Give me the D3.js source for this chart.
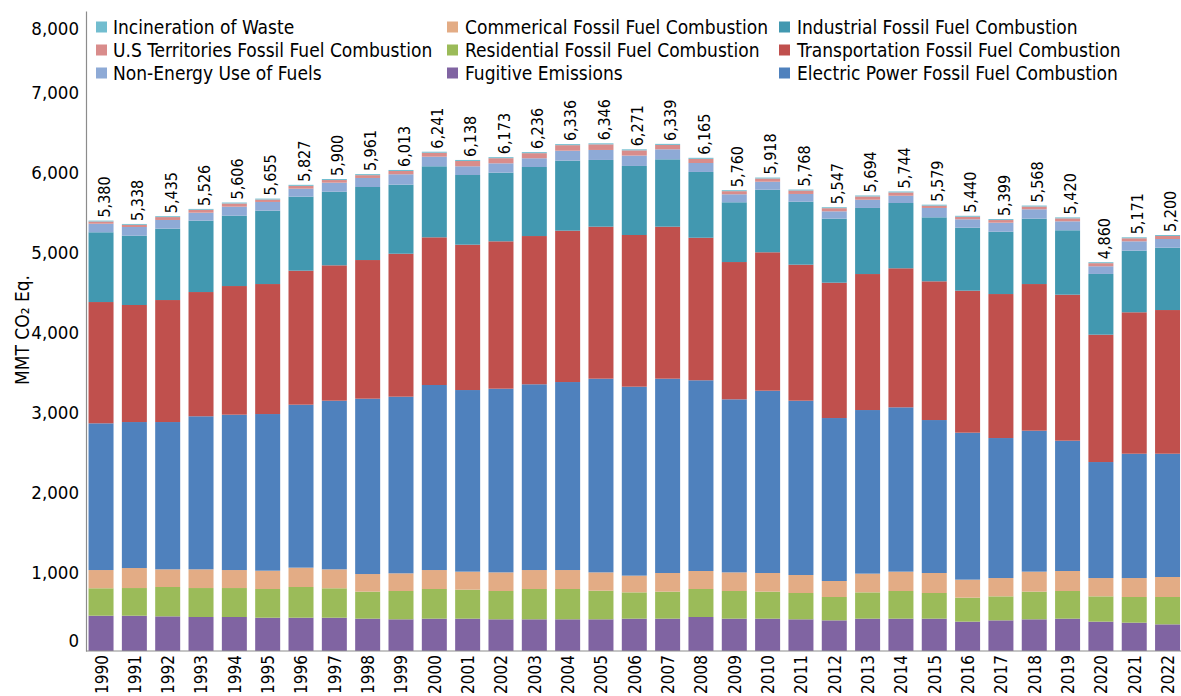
<!DOCTYPE html>
<html><head><meta charset="utf-8">
<script src="https://cdn.jsdelivr.net/npm/d3@7"></script>
<style>
body{margin:0;background:#fff;}
svg text{font-family:"DejaVu Sans Condensed","DejaVu Sans",sans-serif;font-stretch:condensed;fill:#000;}
</style></head><body>
<svg id="chart" width="1181" height="696"></svg>
<script>
const years = ["1990","1991","1992","1993","1994","1995","1996","1997","1998","1999","2000","2001","2002","2003","2004","2005","2006","2007","2008","2009","2010","2011","2012","2013","2014","2015","2016","2017","2018","2019","2020","2021","2022"];
const fugitive = [441,441,433,425,425,416,416,416,404,396,404,404,396,396,396,396,404,404,425,404,404,396,383,404,404,404,367,383,396,404,367,354,333];
const residential = [343,346,367,362,362,359,384,368,338,354,371,363,354,379,379,358,329,338,350,346,338,329,292,329,346,321,300,300,346,346,316,321,342];
const commercial = [228,250,221,234,225,229,242,237,220,221,237,225,233,237,237,229,209,233,225,233,233,225,200,234,242,250,225,229,250,250,229,237,250];
const electric = [1834,1825,1841,1913,1942,1958,2037,2108,2192,2208,2313,2270,2296,2322,2350,2421,2362,2429,2384,2163,2279,2179,2037,2045,2054,1912,1837,1750,1762,1629,1450,1554,1541];
const transportation = [1516,1463,1525,1553,1608,1625,1675,1692,1733,1787,1846,1817,1842,1853,1892,1900,1896,1900,1782,1716,1730,1700,1692,1700,1738,1734,1775,1800,1833,1825,1592,1768,1796];
const industrial = [872,866,892,892,879,917,925,920,913,863,888,871,858,863,875,834,863,842,822,747,782,787,800,826,816,800,787,779,817,805,759,770,779];
const nonEnergy = [107,109,109,100,113,109,100,113,113,130,120,109,117,109,125,125,130,125,112,100,100,97,92,103,91,117,105,113,117,112,96,117,109];
const territories = [28,27,36,36,40,30,35,33,35,41,49,66,64,64,69,70,65,55,52,39,40,43,39,41,41,29,32,33,35,37,39,38,38];
const incineration = [11,11,11,11,12,12,13,13,13,13,13,13,13,13,13,13,13,13,13,12,12,12,12,12,12,12,12,12,12,12,12,12,12];
const totals = [5380,5338,5435,5526,5606,5655,5827,5900,5961,6013,6241,6138,6173,6236,6336,6346,6271,6339,6165,5760,5918,5768,5547,5694,5744,5579,5440,5399,5568,5420,4860,5171,5200];
const yTicks = [0,1000,2000,3000,4000,5000,6000,7000,8000];

// series (stack order bottom -> top)
const seriesNames = ["Fugitive Emissions","Residential Fossil Fuel Combustion","Commerical Fossil Fuel Combustion","Electric Power Fossil Fuel Combustion","Transportation Fossil Fuel Combustion","Industrial Fossil Fuel Combustion","Non-Energy Use of Fuels","U.S Territories Fossil Fuel Combustion","Incineration of Waste"];
const seriesValues = [fugitive,residential,commercial,electric,transportation,industrial,nonEnergy,territories,incineration];
const seriesColors = ["#8064a2","#9bbb59","#e3ac85","#4f81bd","#c0504d","#4298b0","#8eaad6","#d98c8b","#72bdcf"];
// legend layout order (column-major)
const legendOrder = [
  "Incineration of Waste","U.S Territories Fossil Fuel Combustion","Non-Energy Use of Fuels",
  "Commerical Fossil Fuel Combustion","Residential Fossil Fuel Combustion","Fugitive Emissions",
  "Industrial Fossil Fuel Combustion","Transportation Fossil Fuel Combustion","Electric Power Fossil Fuel Combustion"
];

const svg = d3.select("#chart");
const baseY = 651, topY = 11, leftX = 86;

const rows = years.map((yr,i)=>{
  const o = {year:yr};
  seriesNames.forEach((n,k)=>{ o[n] = seriesValues[k][i]; });
  return o;
});
const stack = d3.stack().keys(seriesNames)(rows);
const color = d3.scaleOrdinal().domain(seriesNames).range(seriesColors);

const x = d3.scaleBand().domain(years).range([85.2, 1183.4]).paddingInner(0.25).paddingOuter(0.1);
const y = d3.scaleLinear().domain([0,8000]).range([baseY, topY]);

// bars
svg.append("g").selectAll("g").data(stack).join("g")
  .attr("fill", d=>color(d.key))
  .selectAll("rect").data(d=>d).join("rect")
  .attr("x", d=>x(d.data.year))
  .attr("width", x.bandwidth())
  .attr("y", d=>y(d[1]))
  .attr("height", d=>Math.max(0, y(d[0]) - y(d[1])));

// y axis
const yAxis = svg.append("g").attr("transform",`translate(${leftX},0)`)
  .call(d3.axisLeft(y).tickValues(yTicks).tickFormat(d3.format(",")).tickSize(0).tickPadding(7));
yAxis.select(".domain").attr("stroke","#8c8c8c").attr("stroke-width",1.2);
yAxis.selectAll("text").style("font-size","18.5px")
  .attr("dy", d => d===8000 ? "1.25em" : d===0 ? "-0.25em" : "0.42em");

// x axis
const xAxis = svg.append("g").attr("transform",`translate(0,${baseY})`)
  .call(d3.axisBottom(x).tickSize(0).tickPadding(4));
xAxis.select(".domain").attr("stroke","#8c8c8c").attr("stroke-width",1.2)
  .attr("d", `M${leftX},0H1181`);
xAxis.selectAll("text").style("font-size","17px")
  .attr("text-anchor","end").attr("transform","rotate(-90)")
  .attr("x",-4).attr("y",0).attr("dy","0.38em");

// total labels
const topLayer = stack[stack.length-1];
svg.append("g").selectAll("text").data(topLayer).join("text")
  .attr("transform", (d,i)=>`translate(${x(d.data.year)+x.bandwidth()/2},${y(d[1])-3}) rotate(-90)`)
  .attr("dy","0.55em")
  .style("font-size","16px")
  .text((d,i)=>d3.format(",")(totals[i]));

// y title
svg.append("text")
  .attr("transform","translate(22,330) rotate(-90)")
  .attr("text-anchor","middle").attr("dy","0.35em")
  .style("font-size","19px").style("font-stretch","normal")
  .text("MMT CO₂ Eq.");

// legend
const colX = [[96,113],[447,465],[779,797]];
const rowY = [27,50,73];
const lg = svg.append("g");
legendOrder.forEach((name,i)=>{
  const c = Math.floor(i/3), r = i%3;
  lg.append("rect").attr("x",colX[c][0]).attr("y",rowY[r]-5.5).attr("width",11).attr("height",11).attr("fill",color(name));
  lg.append("text").attr("x",colX[c][1]).attr("y",rowY[r]).attr("dy","0.36em").style("font-size","19px").text(name);
});
</script></body></html>
